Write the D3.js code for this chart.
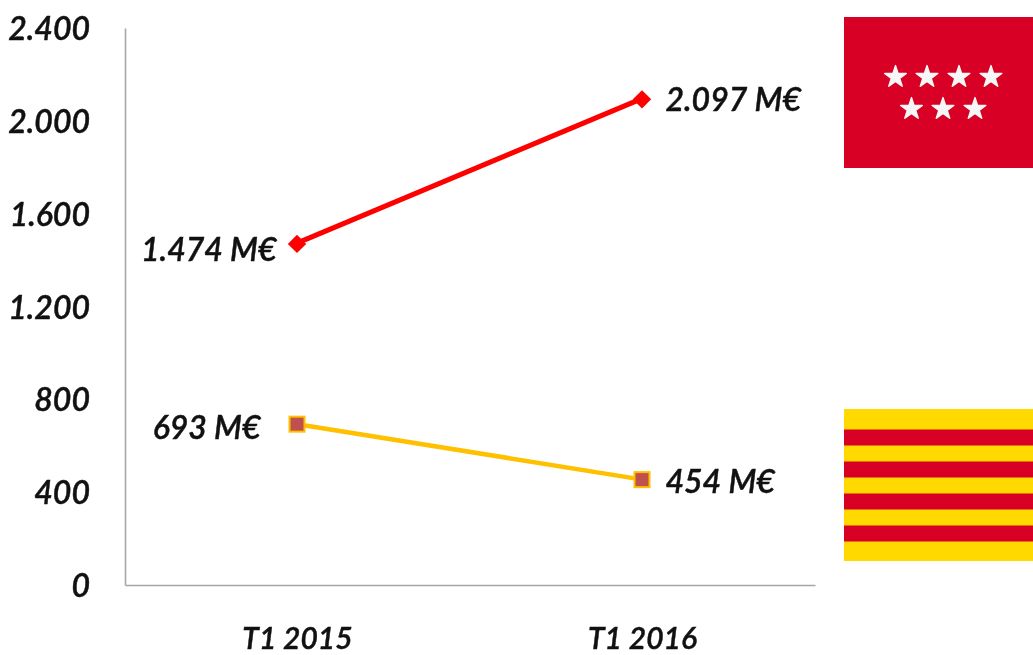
<!DOCTYPE html>
<html>
<head>
<meta charset="utf-8">
<script src="https://cdn.jsdelivr.net/npm/d3@7"></script>
<style>
html,body{margin:0;padding:0;background:#fff;overflow:hidden}
svg{filter:blur(0.45px)}
text{font-family:Lato,"Open Sans",sans-serif;font-style:italic;font-weight:600;fill:#111;stroke:#111;stroke-width:0.45px;font-size:32px}
</style>
</head>
<body>
<svg id="chart" width="1033" height="655"></svg>
<script>
const categories = ["T1 2015", "T1 2016"];
const madrid = [1474, 2097];
const catalonia = [693, 454];
const madridLabels = ["1.474 M€", "2.097 M€"];
const cataloniaLabels = ["693 M€", "454 M€"];
const yTicks = [0, 400, 800, 1200, 1600, 2000, 2400];
const yTickLabels = ["0", "400", "800", "1.200", "1.600", "2.000", "2.400"];

const svg = d3.select("#chart");
const x = d3.scaleBand().domain(categories).range([125, 815]);
const y = d3.scaleLinear().domain([0, 2400]).range([585, 28]);
const cx = c => x(c) + x.bandwidth() / 2;

// axes
const yAxis = d3.axisLeft(y).tickValues(yTicks).tickSize(0).tickPadding(0)
  .tickFormat((d, i) => yTickLabels[i]);
const gy = svg.append("g").attr("transform", "translate(125,0)").call(yAxis);
gy.select(".domain").attr("stroke", "#a6a6a6").attr("stroke-width", 1.6);
gy.selectAll("text").attr("x", -35).attr("dy", "0.36em").style("font-size", "32px")
  .attr("text-anchor", "end");
gy.attr("font-family", null).attr("font-size", null);

const xAxis = d3.axisBottom(x).tickSize(0).tickPadding(0);
const gx = svg.append("g").attr("transform", "translate(0,585)").call(xAxis);
gx.select(".domain").attr("stroke", "#a6a6a6").attr("stroke-width", 1.6);
gx.selectAll("text").attr("y", 0).attr("dy", 0).attr("transform", "translate(0,64)").style("font-size", "30px");
gx.attr("font-family", null).attr("font-size", null);

// lines
const line = d3.line().x((d, i) => cx(categories[i])).y(d => y(d));
svg.append("path").datum(madrid).attr("d", line).attr("fill", "none")
  .attr("stroke", "#ff0000").attr("stroke-width", 5);
svg.append("path").datum(catalonia).attr("d", line).attr("fill", "none")
  .attr("stroke", "#ffc000").attr("stroke-width", 4.5);

// markers
svg.selectAll(".m").data(madrid).join("rect").attr("class", "m")
  .attr("x", -6.5).attr("y", -6.5).attr("width", 13).attr("height", 13).attr("fill", "#ff0000")
  .attr("transform", (d, i) => `translate(${cx(categories[i]) - 0.5},${y(d) + 1}) rotate(45)`);
svg.selectAll(".c").data(catalonia).join("rect").attr("class", "c")
  .attr("x", (d, i) => cx(categories[i]) - 8).attr("y", d => y(d) - 7.5)
  .attr("width", 15).attr("height", 15).attr("fill", "#c0504d")
  .attr("stroke", "#ffc000").attr("stroke-width", 2);

// data labels
const addLabels = (vals, labs, offsX, offsY) => svg.selectAll(null).data(vals).join("text")
  .attr("x", (d, i) => cx(categories[i]) + offsX[i])
  .attr("y", d => y(d))
  .attr("dy", (d, i) => offsY[i])
  .attr("text-anchor", (d, i) => i === 0 ? "end" : "start")
  .text((d, i) => labs[i]);
addLabels(madrid, madridLabels, [-21, 23], [18, 13]);
addLabels(catalonia, cataloniaLabels, [-37, 23], [15, 13]);

// Madrid flag
svg.append("rect").attr("x", 844).attr("y", 17).attr("width", 189).attr("height", 151).attr("fill", "#d90026");
const starRows = [{cy: 77, xs: [895.5, 927, 959, 991]}, {cy: 109, xs: [911.5, 943, 975]}];
const star = d3.symbol().type(d3.symbolStar).size(145);
starRows.forEach(r => r.xs.forEach(sx => {
  svg.append("path").attr("d", star()).attr("fill", "#f7f7f7")
    .attr("stroke", "#f7f7f7").attr("stroke-width", 1.5).attr("stroke-linejoin", "round")
    .attr("transform", `translate(${sx},${r.cy})`);
}));

// Catalonia flag
svg.append("rect").attr("x", 844).attr("y", 409).attr("width", 189).attr("height", 152).attr("fill", "#ffd900");
[429.5, 461.5, 493.5, 525.5].forEach(sy => svg.append("rect").attr("x", 844).attr("y", sy)
  .attr("width", 189).attr("height", 16).attr("fill", "#d90026"));
</script>
</body>
</html>
